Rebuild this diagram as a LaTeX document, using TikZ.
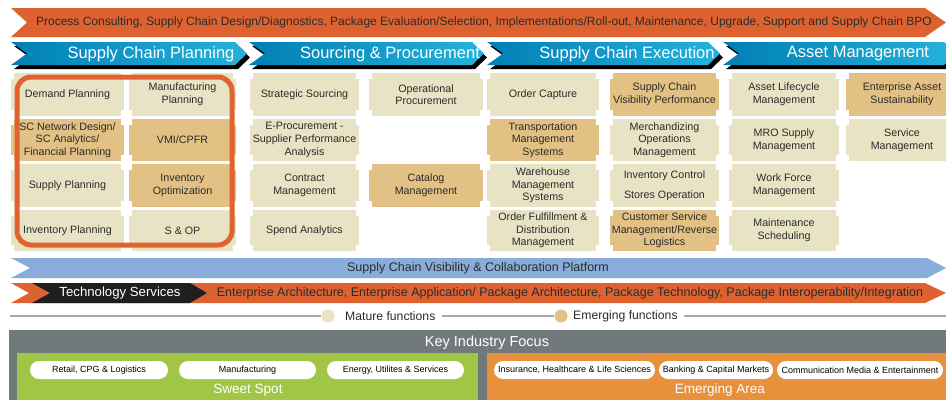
\documentclass[tikz,border=0pt]{standalone}
\usepackage{fontspec}
\setmainfont{Liberation Sans}
\definecolor{orbar}{HTML}{DE6230}
\definecolor{bla}{RGB}{0,128,182}
\definecolor{blb}{RGB}{36,178,218}
\definecolor{plat}{HTML}{89ADDB}
\definecolor{beige}{HTML}{E9E3C5}
\definecolor{tan}{HTML}{E3C184}
\definecolor{ring}{HTML}{E0622E}
\definecolor{legline}{HTML}{A6AAAE}
\definecolor{kgrey}{HTML}{72797C}
\definecolor{kgreen}{HTML}{A1C646}
\definecolor{korange}{HTML}{E8913D}
\definecolor{txt}{HTML}{2B2B2B}
\newcommand{\chevfill}[7]{%
  \path[#1] (#2,#3) -- (#4,#3) -- ({#4+#7},{(#3+#5)/2}) -- (#4,#5) -- (#2,#5) -- ({#2+#6},{(#3+#5)/2}) -- cycle;}
\newcommand{\sctile}[7]{%
  \fill[#6] ({#2+3},#3) rectangle ({#4-3},#5);
  \fill[#6] (#2,{#3+6}) rectangle (#4,{#5-6});
  \node[tiletext] (#1) at ({(#2+#4)/2},{(#3+#5)/2}) {#7};}
\begin{document}
\begin{tikzpicture}[x=1pt,y=-1pt,
  tiletext/.style={text=txt, align=center, font=\fontsize{10.7}{12.6}\selectfont, inner sep=0pt},
  headtext/.style={text=white, font=\fontsize{16.5}{18}\selectfont, inner sep=0pt},
  bartext/.style={text=txt, font=\fontsize{12.3}{14}\selectfont, inner sep=0pt},
  legtext/.style={text=txt, font=\fontsize{12.2}{14}\selectfont, inner sep=0pt, anchor=west},
  legdot/.style={circle, minimum size=13pt, inner sep=0pt},
  pill/.style={fill=white, rounded corners=9pt, minimum height=18pt, inner sep=0pt, text=black, font=\fontsize{9}{10}\selectfont},
  areatext/.style={text=white, font=\fontsize{13.5}{15}\selectfont, inner sep=0pt}]
\useasboundingbox (0,0) rectangle (946,400);
\clip (0,0) rectangle (946,400);
\fill[white] (0,0) rectangle (946,400);

% top banner
\chevfill{fill=orbar}{11}{8}{925}{37}{16}{21}
\node[bartext, font=\fontsize{12}{14}\selectfont] (top) at (484,22.5) {Process Consulting, Supply Chain Design/Diagnostics, Package Evaluation/Selection, Implementations/Roll-out, Maintenance, Upgrade, Support and Supply Chain BPO};

% chevron headers
\chevfill{fill=black, shift={(3,4)}}{11}{42}{235}{65}{16}{12}
\chevfill{left color=bla, right color=blb}{11}{42}{235}{65}{16}{12}
\chevfill{fill=black, shift={(3,4)}}{249}{42}{472}{65}{16}{12}
\chevfill{left color=bla, right color=blb}{249}{42}{472}{65}{16}{12}
\chevfill{fill=black, shift={(3,4)}}{487}{42}{708}{65}{16}{12}
\chevfill{left color=bla, right color=blb}{487}{42}{708}{65}{16}{12}
\chevfill{fill=black, shift={(3,4)}}{723}{42}{944}{65}{16}{12}
\chevfill{left color=bla, right color=blb}{723}{42}{944}{65}{16}{12}
\node[headtext] (h1) at (151,54) {Supply Chain Planning};
\node[headtext] (h2) at (390,54) {Sourcing \& Procurement};
\node[headtext] (h3) at (627,54) {Supply Chain Execution};
\node[headtext] (h4) at (858,54) {Asset Management};

% row 1
\sctile{t11}{11}{73}{124}{116}{beige}{Demand Planning}
\sctile{t12}{129}{73}{236}{116}{beige}{Manufacturing\\Planning}
\sctile{t13}{250}{73}{359}{116}{beige}{Strategic Sourcing}
\sctile{t14}{369}{73}{483}{116}{beige}{Operational\\Procurement}
\sctile{t15}{487}{73}{599}{116}{beige}{Order Capture}
\sctile{t16}{610}{73}{719}{116}{tan}{Supply Chain\\Visibility Performance}
\sctile{t17}{729}{73}{839}{116}{beige}{Asset Lifecycle\\Management}
\sctile{t18}{846}{73}{958}{116}{tan}{Enterprise Asset\\Sustainability}
% row 2
\sctile{t21}{11}{119}{124}{161}{tan}{SC Network Design/\\SC Analytics/\\Financial Planning}
\sctile{t22}{129}{119}{236}{161}{tan}{VMI/CPFR}
\sctile{t23}{250}{119}{359}{161}{beige}{E-Procurement -\\Supplier Performance\\Analysis}
\sctile{t25}{487}{119}{599}{161}{tan}{Transportation\\Management\\Systems}
\sctile{t26}{610}{119}{719}{161}{beige}{Merchandizing\\Operations\\Management}
\sctile{t27}{729}{119}{839}{161}{beige}{MRO Supply\\Management}
\sctile{t28}{846}{119}{958}{161}{beige}{Service\\Management}
% row 3
\sctile{t31}{11}{164}{124}{207}{beige}{Supply Planning}
\sctile{t32}{129}{164}{236}{207}{tan}{Inventory\\Optimization}
\sctile{t33}{250}{164}{359}{207}{beige}{Contract\\Management}
\sctile{t34}{369}{164}{483}{207}{tan}{Catalog\\Management}
\sctile{t35}{487}{164}{599}{207}{beige}{Warehouse\\Management\\Systems}
\sctile{t36}{610}{164}{719}{207}{beige}{Inventory Control\\[7pt]Stores Operation}
\sctile{t37}{729}{164}{839}{207}{beige}{Work Force\\Management}
% row 4
\sctile{t41}{11}{210}{124}{251}{beige}{Inventory Planning}
\sctile{t42}{129}{210}{236}{251}{beige}{S \& OP}
\sctile{t43}{250}{210}{359}{251}{beige}{Spend Analytics}
\sctile{t45}{487}{210}{599}{251}{beige}{Order Fulfillment \&\\Distribution\\Management}
\sctile{t46}{610}{210}{719}{251}{tan}{Customer Service\\Management/Reverse\\Logistics}
\sctile{t47}{729}{210}{839}{251}{beige}{Maintenance\\Scheduling}

% highlight ring
\draw[ring, line width=5pt, rounded corners=14pt] (17,77) rectangle (232,245);

% platform bar
\chevfill{fill=plat}{11}{258}{927}{278}{19}{19}
\node[bartext, font=\fontsize{12.5}{14}\selectfont] (platform) at (478,268) {Supply Chain Visibility \& Collaboration Platform};

% technology bar
\chevfill{fill=orbar}{11}{283}{925}{303}{18}{21}
\chevfill{fill=black!88}{32}{283}{190}{303}{18}{17}
\node[headtext, font=\fontsize{13.2}{15}\selectfont] (tech) at (120,293) {Technology Services};
\node[bartext, font=\fontsize{12.5}{14}\selectfont] (techlist) at (570,293) {Enterprise Architecture, Enterprise Application/ Package Architecture, Package Technology, Package Interoperability/Integration};

% legend
\coordinate (legL) at (10,316);
\coordinate (legR) at (946,316);
\node[legdot, fill=beige] (dot1) at (328,316) {};
\node[legtext] (mat) at (345,316) {Mature functions};
\node[legdot, fill=tan] (dot2) at (561,316) {};
\node[legtext] (emg) at (573,316) {Emerging functions};
\draw[legline, line width=1.8pt] (legL) -- (dot1.west);
\draw[legline, line width=1.8pt] ([xshift=6pt]mat.east) -- (dot2.west);
\draw[legline, line width=1.8pt] ([xshift=6pt]emg.east) -- (legR);

% key industry focus
\fill[kgrey] (9,330) rectangle (946,400);
\node[areatext, font=\fontsize{14.5}{16}\selectfont] (kif) at (487,343) {Key Industry Focus};
\fill[kgreen] (17,353) rectangle (478,400);
\fill[korange] (487,353) rectangle (946,400);
\node[pill, minimum width=138pt] (p1) at (99,370) {Retail, CPG \& Logistics};
\node[pill, minimum width=137pt] (p2) at (247.5,370) {Manufacturing};
\node[pill, minimum width=137pt] (p3) at (395.5,370) {Energy, Utilites \& Services};
\node[areatext] (sweet) at (248,390) {Sweet Spot};
\node[pill, minimum width=161pt] (p4) at (574.5,370) {Insurance, Healthcare \& Life Sciences};
\node[pill, minimum width=114pt] (p5) at (716,370) {Banking \& Capital Markets};
\node[pill, minimum width=166pt] (p6) at (860,370) {Communication Media \& Entertainment};
\node[areatext] (emarea) at (720,390) {Emerging Area};
\end{tikzpicture}
\end{document}
